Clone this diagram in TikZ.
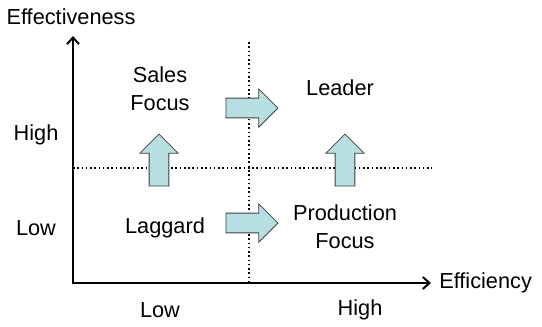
\documentclass[tikz,border=0pt]{standalone}
\usepackage{fontspec}
\setmainfont{Liberation Sans}
\usepackage{xcolor}
\usetikzlibrary{shapes.arrows,arrows.meta,positioning}
\definecolor{arrowfill}{RGB}{183,222,224}

\begin{document}
\begin{tikzpicture}[x=0.75pt, y=-0.75pt, font=\fontsize{16.3}{21}\selectfont,
  axis/.style={{Straight Barb[length=5pt,width=9pt]}-{Straight Barb[length=5pt,width=9pt]}, line width=1.5pt, line join=miter},
  grid/.style={dotted, line width=1.2pt},
  blk/.style={single arrow, draw=black!75, fill=arrowfill, line width=0.6pt, minimum height=39pt, single arrow head extend=7pt, inner xsep=0pt, inner ysep=7.1pt},
  blkup/.style={blk, shape border rotate=90, inner xsep=7.1pt, inner ysep=0pt},
  lbl/.style={align=center, inner sep=0pt}]
\useasboundingbox (0,0) rectangle (542,326);
% axes and quadrant lines
\coordinate (ytip) at (73,36);
\coordinate (o) at (73,283);
\coordinate (xtip) at (431,283);
\coordinate (vtop) at (249,42);
\coordinate (vbot) at (249,283);
\coordinate (hl) at (73,168);
\coordinate (hr) at (432,168);
\draw[grid] (vtop) -- (vbot);
\draw[grid] (hl) -- (hr);
\draw[axis] (ytip) -- (o) -- (xtip);
\node[lbl] (effv) at (71,17) {Effectiveness};
\node[lbl, anchor=west] (effc) at (439,283) {Efficiency};
\node[lbl] (yhigh) at (36,135) {High};
\node[lbl] (ylow) at (36,228) {Low};
\node[lbl] (xlow) at (160,310) {Low};
\node[lbl] (xhigh) at (360,310) {High};
% quadrants
\node[lbl] (sales) at (160,89) {Sales\\Focus};
\node[lbl] (leader) at (340,88) {Leader};
\node[lbl] (laggard) at (165,228) {Laggard};
\node[lbl] (prod) at (345,227) {Production\\Focus};
% block arrows
\node[blk] (a1) at (247,108) {};
\node[blk] (a2) at (247,223) {};
\node[blkup] (a3) at (159,165) {};
\node[blkup] (a4) at (345,165) {};
\end{tikzpicture}
\end{document}
